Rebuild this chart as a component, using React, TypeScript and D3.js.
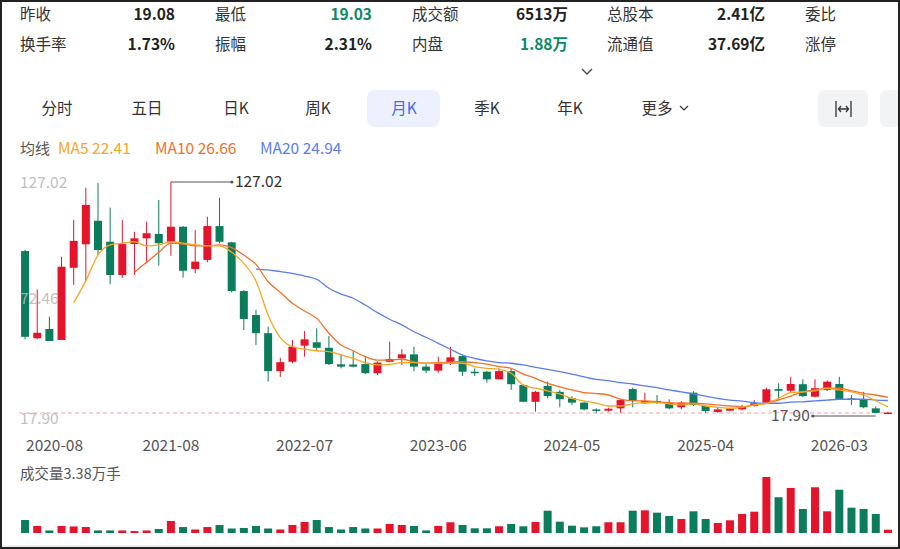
import * as d3 from "d3";

// monthly K-line, 2020-08 .. 2026-07
const opens = [94.4, 53.2, 57.6, 52.4, 86.5, 97.6, 108.7, 98.8, 83.1, 97.7, 100.4, 102.5, 98.8, 105.9, 85.9, 90.2, 106.2, 98.5, 75.5, 64.2, 55.6, 37.7, 42.1, 49.7, 51.3, 48.7, 40.9, 40.8, 41.0, 36.7, 42.1, 43.7, 45.6, 39.8, 37.9, 41.9, 44.8, 37.4, 37.4, 33.8, 37.7, 31.1, 23.2, 30.7, 27.9, 24.8, 22.8, 19.6, 19.0, 20.1, 29.2, 22.5, 23.6, 22.8, 20.6, 27.5, 21.2, 18.4, 19.0, 19.6, 21.2, 22.8, 29.2, 28.4, 31.5, 25.6, 28.8, 31.6, 24.8, 24.4, 20.1, 17.9];
const highs = [95.0, 76.3, 63.4, 91.7, 109.1, 124.3, 126.5, 114.9, 109.1, 103.5, 108.3, 118.5, 127.02, 106.2, 104.3, 110.6, 119.6, 98.8, 76.0, 66.6, 58.7, 44.0, 52.4, 56.6, 57.9, 54.3, 45.8, 47.2, 44.2, 42.2, 51.6, 48.1, 49.2, 41.4, 44.5, 49.2, 45.5, 39.0, 37.8, 39.0, 39.0, 31.5, 28.3, 32.7, 28.8, 25.9, 23.2, 20.1, 20.4, 24.4, 29.9, 27.5, 26.4, 24.4, 23.5, 28.2, 21.5, 20.6, 20.1, 21.7, 24.0, 29.9, 31.9, 35.0, 33.8, 33.8, 33.3, 35.0, 26.4, 27.9, 21.0, 18.4];
const lows = [52.7, 52.7, 51.9, 52.4, 78.4, 80.3, 92.5, 78.7, 81.8, 83.1, 88.6, 87.5, 92.2, 81.8, 83.9, 89.1, 98.1, 74.9, 57.1, 50.0, 32.7, 35.0, 41.4, 44.5, 47.7, 40.6, 39.0, 39.4, 36.3, 35.9, 41.8, 40.6, 37.7, 36.7, 36.9, 40.6, 35.4, 35.4, 32.2, 33.8, 28.8, 23.0, 18.5, 24.8, 20.6, 21.7, 19.1, 18.0, 18.5, 18.0, 20.6, 22.2, 22.2, 19.6, 19.6, 21.2, 18.0, 18.0, 18.8, 19.1, 20.9, 22.2, 24.0, 27.9, 25.4, 25.3, 28.3, 24.0, 21.7, 20.1, 17.9, 17.9];
const closes = [53.9, 55.8, 51.9, 87.0, 99.2, 116.2, 94.9, 83.1, 97.7, 100.4, 102.8, 98.1, 105.9, 85.1, 89.4, 106.2, 98.8, 75.5, 62.3, 55.6, 37.7, 41.9, 49.2, 52.7, 48.7, 41.0, 39.8, 39.8, 36.7, 41.7, 43.4, 45.6, 39.8, 37.9, 41.9, 44.2, 37.4, 36.7, 33.8, 37.7, 31.5, 23.2, 27.9, 25.9, 24.4, 22.8, 19.6, 19.2, 19.9, 24.0, 23.6, 23.6, 22.8, 20.1, 22.8, 21.7, 18.8, 19.6, 19.9, 21.2, 22.5, 29.1, 28.4, 31.6, 25.9, 29.6, 32.7, 24.4, 24.4, 20.6, 17.95, 18.1];
// 成交量 (万手)
const volumes = [13.3, 7.2, 2.6, 7.2, 6.7, 6.1, 2.6, 2.6, 2.6, 2.0, 2.6, 4.1, 12.3, 6.1, 3.6, 6.1, 8.2, 4.6, 5.1, 7.2, 4.6, 3.6, 8.2, 11.3, 13.3, 6.1, 3.6, 6.1, 4.6, 4.6, 9.2, 8.2, 7.2, 2.6, 7.2, 11.0, 8.2, 4.8, 4.8, 6.9, 9.2, 6.9, 11.3, 22.8, 11.6, 7.5, 5.8, 6.9, 11.0, 11.0, 22.8, 23.2, 20.8, 17.4, 14.3, 22.2, 14.3, 10.2, 13.0, 19.5, 21.8, 57.3, 36.6, 46.1, 24.6, 46.8, 22.2, 44.3, 25.9, 24.6, 19.5, 3.38];

const N = null;
const ma5 = [N, N, N, N, 70.0, 80.3, 92.5, 97.3, 98.1, 98.8, 96.8, 97.3, 98.8, 98.1, 97.3, 96.9, 96.9, 93.8, 88.6, 80.3, 64.2, 53.5, 49.2, 48.1, 47.3, 46.9, 45.3, 43.7, 41.7, 40.6, 40.9, 41.7, 41.7, 41.4, 41.4, 41.4, 41.4, 39.8, 39.0, 38.5, 36.7, 31.1, 29.6, 28.4, 26.9, 24.8, 23.6, 22.6, 21.2, 21.2, 22.2, 22.8, 22.8, 22.2, 21.7, 22.2, 21.2, 20.6, 20.1, 20.6, 21.7, 22.5, 24.8, 27.5, 27.9, 28.4, 29.6, 28.8, 27.9, 26.4, 23.7, 20.8];
const ma10 = [N, N, N, N, N, N, N, N, N, 84.4, 89.1, 93.8, 98.1, 97.7, 96.9, 96.9, 97.3, 96.0, 92.5, 88.1, 79.9, 74.9, 69.7, 66.1, 62.6, 55.6, 50.0, 47.3, 44.5, 42.9, 42.9, 43.3, 42.1, 41.4, 41.7, 41.9, 42.1, 41.7, 41.0, 39.8, 39.0, 36.3, 34.3, 31.9, 30.3, 28.8, 27.5, 27.1, 26.4, 24.4, 23.6, 23.6, 23.2, 22.8, 22.5, 22.5, 22.2, 21.7, 21.2, 20.9, 21.7, 22.5, 24.0, 25.9, 27.9, 28.8, 29.6, 29.6, 28.4, 27.2, 26.4, 25.3];
const ma20 = [N, N, N, N, N, N, N, N, N, N, N, N, N, N, N, N, N, N, N, 85.9, 85.5, 84.7, 83.9, 82.6, 81.1, 76.8, 74.1, 72.1, 68.9, 65.3, 62.2, 59.5, 56.3, 53.7, 50.8, 48.0, 45.3, 43.7, 42.5, 41.7, 41.4, 40.6, 39.5, 38.5, 37.4, 36.3, 35.0, 33.8, 33.2, 32.2, 31.6, 30.7, 29.9, 28.8, 27.9, 26.9, 25.9, 24.8, 24.0, 23.5, 22.8, 22.5, 22.5, 23.0, 23.2, 23.6, 24.0, 24.4, 24.4, 24.4, 24.0, 23.8];

const months = d3.timeMonths(new Date(2020, 7, 1), new Date(2026, 7, 1)).map(d3.timeFormat("%Y-%m"));
const tickLabels = ["2020-08", "2021-08", "2022-07", "2023-06", "2024-05", "2025-04", "2026-03"];
const yLabels = [127.02, 72.46, 17.9];

const headRow1 = [
    ["昨收", "19.08"], ["最低", "19.03"], ["成交额", "6513万"], ["总股本", "2.41亿"], ["委比", ""],
];
const headRow2 = [
    ["换手率", "1.73%"], ["振幅", "2.31%"], ["内盘", "1.88万"], ["流通值", "37.69亿"], ["涨停", ""],
];
const greenValues = ["19.03", "1.88万"];
const tabs = ["分时", "五日", "日K", "周K", "月K", "季K", "年K", "更多"];
const tabX = [57, 147, 236, 318, 404, 487, 570, 657];

const RED = "#e3142c";
const GREEN = "#0b7c5c";
const C_MA5 = "#f7a623";
const C_MA10 = "#f4702a";
const C_MA20 = "#5a7cf3";
const FONT = "'Noto Sans CJK SC', 'Noto Sans', sans-serif";

export default function App() {
    const W = 900;
    const H = 549;

    const x = d3.scaleBand<string>().domain(months).range([19, 894]);
    const bw = 8;
    const cx = (i: number) => (x(months[i]) ?? 0) + x.bandwidth() / 2;

    const y = d3.scaleLinear().domain([17.9, 127.02]).range([413, 182]);
    const yv = d3.scaleLinear().domain([0, d3.max(volumes)!]).range([533, 477]);

    const maLine = d3
        .line<number | null>()
        .defined((d) => d != null)
        .x((_, i) => cx(i))
        .y((d) => y(d as number))
        .curve(d3.curveMonotoneX);

    const iMax = d3.maxIndex(highs);
    const iMin = d3.minIndex(lows);
    const colX = [20, 215, 412, 607, 805];
    const valX = [175, 372, 568, 765];

    return (
        <svg
            width={W}
            height={H}
            style={{ position: "fixed", left: 0, top: 0, background: "#fff" }}
            fontFamily={FONT}
        >
            <rect x={0} y={0} width={W} height={H} fill="#fff" />

            {/* header */}
            {[headRow1, headRow2].map((row, r) =>
                row.map(([label, val], k) => (
                    <g key={`h${r}${k}`}>
                        <text x={colX[k]} y={15 + r * 30} dy="0.35em" fontSize={15.5} fill="#333">
                            {label}
                        </text>
                        {val && (
                            <text
                                x={valX[k]}
                                y={15 + r * 30}
                                dy="0.35em"
                                fontSize={15.5}
                                fontWeight={600}
                                textAnchor="end"
                                fill={greenValues.includes(val) ? "#0b8a64" : "#222"}
                            >
                                {val}
                            </text>
                        )}
                    </g>
                ))
            )}
            <path d="M582,69 L587,74 L592,69" fill="none" stroke="#444" strokeWidth={1.3} />

            {/* tabs */}
            <rect x={367} y={90} width={73} height={37} rx={8} fill="#edf1fd" />
            {tabs.map((t, i) => (
                <text
                    key={t}
                    x={tabX[i]}
                    y={109}
                    dy="0.35em"
                    fontSize={15.5}
                    textAnchor="middle"
                    fill={t === "月K" ? "#3f6cf0" : "#333"}
                >
                    {t}
                </text>
            ))}
            <path d="M680,106 L684,110 L688,106" fill="none" stroke="#333" strokeWidth={1.2} />
            <rect x={818} y={90} width={50} height={37} rx={6} fill="#f2f3f5" />
            <rect x={880} y={90} width={40} height={37} rx={6} fill="#f2f3f5" />
            <g stroke="#333" strokeWidth={1.3} fill="none">
                <path d="M836,101 V117 M851,101 V117 M839,109 H848" />
                <path d="M841,106 L838.5,109 L841,112 M846,106 L848.5,109 L846,112" />
            </g>

            {/* legend */}
            <text x={20} y={149} dy="0.35em" fontSize={15} fill="#555">均线</text>
            <text x={58} y={149} dy="0.35em" fontSize={15.5} fill={C_MA5}>MA5 22.41</text>
            <text x={155} y={149} dy="0.35em" fontSize={15.5} fill={C_MA10}>MA10 26.66</text>
            <text x={260} y={149} dy="0.35em" fontSize={15.5} fill={C_MA20}>MA20 24.94</text>

            <line x1={19} x2={895} y1={y(17.9)} y2={y(17.9)} stroke="#f3a3ab" strokeDasharray="4,3" />

            {/* candles */}
            {months.map((m, i) => {
                const o = opens[i];
                const c = closes[i];
                const col = c >= o ? RED : GREEN;
                const top = y(Math.max(o, c));
                const h = Math.max(1.5, Math.abs(y(o) - y(c)));
                return (
                    <g key={m}>
                        <line x1={cx(i)} x2={cx(i)} y1={y(highs[i])} y2={y(lows[i])} stroke={col} strokeWidth={1} />
                        <rect x={cx(i) - bw / 2} y={top} width={bw} height={h} fill={col} />
                    </g>
                );
            })}

            {/* moving averages */}
            <path d={maLine(ma20) ?? ""} fill="none" stroke={C_MA20} strokeWidth={1.3} />
            <path d={maLine(ma10) ?? ""} fill="none" stroke={C_MA10} strokeWidth={1.3} />
            <path d={maLine(ma5) ?? ""} fill="none" stroke={C_MA5} strokeWidth={1.3} />

            {/* y labels, drawn over the candles */}
            {yLabels.map((v, i) => (
                <text
                    key={v}
                    x={20}
                    y={y(v) + (i === 2 ? 6 : 1)}
                    dy="0.35em"
                    fontSize={15.5}
                    fill="#b8b8b8"
                    fillOpacity={0.9}
                >
                    {v.toFixed(2)}
                </text>
            ))}

            {/* max / min markers */}
            <line x1={cx(iMax)} x2={cx(iMax) + 61} y1={y(highs[iMax])} y2={y(highs[iMax])} stroke="#555" />
            <circle cx={cx(iMax) + 61} cy={y(highs[iMax])} r={1.6} fill="#555" />
            <text x={cx(iMax) + 64} y={y(highs[iMax])} dy="0.35em" fontSize={15.5} fill="#333">
                {highs[iMax].toFixed(2)}
            </text>
            <line x1={cx(iMin)} x2={cx(iMin) - 63} y1={y(lows[iMin]) + 3} y2={y(lows[iMin]) + 3} stroke="#555" />
            <circle cx={cx(iMin) - 63} cy={y(lows[iMin]) + 3} r={1.6} fill="#555" />
            <text x={cx(iMin) - 66} y={y(lows[iMin]) + 3} dy="0.35em" fontSize={15.5} fill="#555" textAnchor="end">
                {lows[iMin].toFixed(2)}
            </text>

            {/* x labels */}
            {tickLabels.map((t, i) => (
                <text
                    key={t}
                    x={i === 0 ? cx(months.indexOf(t)) + 1 : cx(months.indexOf(t))}
                    y={446}
                    dy="0.35em"
                    fontSize={15.5}
                    fill="#555"
                    textAnchor={i === 0 ? "start" : "middle"}
                >
                    {t}
                </text>
            ))}

            {/* volume */}
            <text x={20} y={474} dy="0.35em" fontSize={14.5} fill="#555">成交量3.38万手</text>
            {volumes.map((v, i) => (
                <rect
                    key={months[i]}
                    x={cx(i) - bw / 2}
                    y={yv(v)}
                    width={bw}
                    height={yv(0) - yv(v)}
                    fill={closes[i] >= opens[i] ? RED : GREEN}
                />
            ))}

            <line x1={0} x2={W} y1={546} y2={546} stroke="#ddd" />
            <rect x={1} y={1} width={W - 2} height={H - 2} fill="none" stroke="#222" strokeWidth={2} />
        </svg>
    );
}
